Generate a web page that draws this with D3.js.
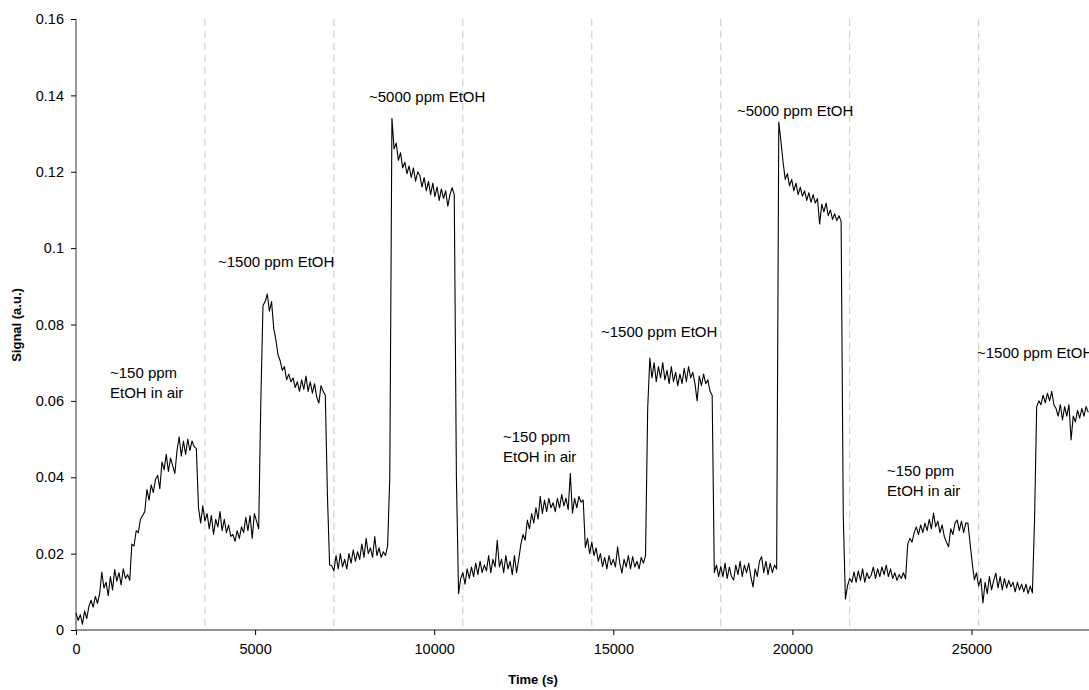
<!DOCTYPE html>
<html>
<head>
<meta charset="utf-8">
<script src="https://cdn.jsdelivr.net/npm/d3@7"></script>
<style>
  body { margin: 0; background: #fff; }
  svg { display: block; }
  text { font-family: "Liberation Sans", Arial, sans-serif; }
</style>
</head>
<body>
<svg id="chart" width="1089" height="690"></svg>
<script>
// ---------------- data ----------------
const sampleIntervalSeconds = 60;   // one reading per minute, starting at t = 0 s
const signal = [
  0.0045, 0.0025, 0.0040, 0.0015, 0.0050, 0.0030, 0.0062, 0.0078, 0.0060, 0.0088,
  0.0070, 0.0095, 0.0152, 0.0110, 0.0125, 0.0090, 0.0140, 0.0105, 0.0158, 0.0128,
  0.0150, 0.0118, 0.0160, 0.0135, 0.0145, 0.0130, 0.0225, 0.0220, 0.0260, 0.0255,
  0.0290, 0.0300, 0.0310, 0.0368, 0.0340, 0.0380, 0.0360, 0.0395, 0.0405, 0.0370,
  0.0440, 0.0420, 0.0460, 0.0415, 0.0450, 0.0430, 0.0410, 0.0470, 0.0506, 0.0455,
  0.0495, 0.0460, 0.0500, 0.0470, 0.0495, 0.0480, 0.0475, 0.0320, 0.0280, 0.0325,
  0.0285, 0.0305, 0.0265, 0.0300, 0.0250, 0.0290, 0.0270, 0.0310, 0.0260, 0.0290,
  0.0255, 0.0275, 0.0245, 0.0250, 0.0232, 0.0260, 0.0240, 0.0270, 0.0255, 0.0295,
  0.0260, 0.0300, 0.0240, 0.0305, 0.0285, 0.0265, 0.0600, 0.0850, 0.0860, 0.0880,
  0.0835, 0.0860, 0.0790, 0.0760, 0.0720, 0.0705, 0.0680, 0.0690, 0.0655, 0.0670,
  0.0650, 0.0660, 0.0635, 0.0650, 0.0625, 0.0655, 0.0630, 0.0665, 0.0625, 0.0650,
  0.0620, 0.0645, 0.0610, 0.0594, 0.0640, 0.0625, 0.0615, 0.0350, 0.0170, 0.0168,
  0.0155, 0.0195, 0.0160, 0.0200, 0.0165, 0.0185, 0.0160, 0.0200, 0.0175, 0.0210,
  0.0180, 0.0205, 0.0185, 0.0225, 0.0190, 0.0240, 0.0200, 0.0215, 0.0190, 0.0245,
  0.0195, 0.0215, 0.0190, 0.0205, 0.0195, 0.0220, 0.0400, 0.1340, 0.1260, 0.1275,
  0.1230, 0.1250, 0.1210, 0.1225, 0.1195, 0.1215, 0.1185, 0.1210, 0.1175, 0.1200,
  0.1190, 0.1160, 0.1185, 0.1150, 0.1175, 0.1140, 0.1170, 0.1135, 0.1160, 0.1125,
  0.1155, 0.1130, 0.1150, 0.1110, 0.1140, 0.1158, 0.1140, 0.0400, 0.0095, 0.0135,
  0.0150, 0.0120, 0.0160, 0.0135, 0.0165, 0.0140, 0.0175, 0.0145, 0.0180, 0.0150,
  0.0170, 0.0155, 0.0195, 0.0150, 0.0185, 0.0165, 0.0235, 0.0165, 0.0185, 0.0150,
  0.0195, 0.0160, 0.0180, 0.0145, 0.0195, 0.0150, 0.0185, 0.0225, 0.0250, 0.0235,
  0.0288, 0.0265, 0.0305, 0.0280, 0.0320, 0.0290, 0.0350, 0.0305, 0.0340, 0.0310,
  0.0345, 0.0320, 0.0333, 0.0310, 0.0345, 0.0320, 0.0355, 0.0325, 0.0345, 0.0315,
  0.0410, 0.0306, 0.0345, 0.0320, 0.0350, 0.0335, 0.0340, 0.0216, 0.0240, 0.0200,
  0.0230, 0.0195, 0.0215, 0.0180, 0.0200, 0.0166, 0.0190, 0.0160, 0.0195, 0.0170,
  0.0185, 0.0165, 0.0218, 0.0175, 0.0149, 0.0185, 0.0165, 0.0195, 0.0160, 0.0192,
  0.0165, 0.0180, 0.0160, 0.0190, 0.0175, 0.0195, 0.0580, 0.0712, 0.0660, 0.0700,
  0.0650, 0.0690, 0.0660, 0.0700, 0.0655, 0.0680, 0.0645, 0.0690, 0.0650, 0.0675,
  0.0640, 0.0670, 0.0645, 0.0685, 0.0650, 0.0690, 0.0660, 0.0675, 0.0645, 0.0600,
  0.0665, 0.0640, 0.0670, 0.0645, 0.0655, 0.0625, 0.0615, 0.0150, 0.0170, 0.0140,
  0.0166, 0.0140, 0.0175, 0.0135, 0.0165, 0.0140, 0.0131, 0.0170, 0.0145, 0.0180,
  0.0140, 0.0170, 0.0150, 0.0175, 0.0140, 0.0113, 0.0160, 0.0140, 0.0180, 0.0192,
  0.0150, 0.0180, 0.0145, 0.0175, 0.0150, 0.0170, 0.0160, 0.1330, 0.1280, 0.1225,
  0.1180, 0.1195, 0.1163, 0.1180, 0.1150, 0.1170, 0.1140, 0.1160, 0.1136, 0.1150,
  0.1125, 0.1145, 0.1120, 0.1140, 0.1118, 0.1130, 0.1063, 0.1115, 0.1095, 0.1118,
  0.1085, 0.1100, 0.1075, 0.1090, 0.1072, 0.1085, 0.1070, 0.0300, 0.0081, 0.0116,
  0.0135, 0.0125, 0.0152, 0.0125, 0.0155, 0.0130, 0.0160, 0.0125, 0.0150, 0.0135,
  0.0144, 0.0165, 0.0135, 0.0160, 0.0140, 0.0165, 0.0145, 0.0170, 0.0140, 0.0160,
  0.0135, 0.0150, 0.0130, 0.0145, 0.0135, 0.0150, 0.0134, 0.0225, 0.0240, 0.0230,
  0.0255, 0.0270, 0.0250, 0.0275, 0.0255, 0.0280, 0.0260, 0.0290, 0.0265, 0.0306,
  0.0270, 0.0285, 0.0255, 0.0275, 0.0245, 0.0230, 0.0218, 0.0265, 0.0250, 0.0280,
  0.0288, 0.0260, 0.0285, 0.0255, 0.0280, 0.0280, 0.0228, 0.0175, 0.0131, 0.0150,
  0.0115, 0.0135, 0.0071, 0.0125, 0.0095, 0.0140, 0.0105, 0.0130, 0.0149, 0.0110,
  0.0140, 0.0105, 0.0135, 0.0110, 0.0130, 0.0113, 0.0125, 0.0100, 0.0125, 0.0105,
  0.0120, 0.0100, 0.0120, 0.0095, 0.0115, 0.0097, 0.0288, 0.0585, 0.0600, 0.0590,
  0.0615, 0.0595, 0.0620, 0.0600, 0.0625, 0.0590, 0.0580, 0.0560, 0.0590, 0.0550,
  0.0585, 0.0560, 0.0590, 0.0498, 0.0560, 0.0545, 0.0575, 0.0555, 0.0580, 0.0560,
  0.0585, 0.0570
];
const gasSwitchTimes = [3600, 7200, 10800, 14400, 18000, 21600, 25200];
const xTickValues = [0, 5000, 10000, 15000, 20000, 25000];
const xTickLabels = ["0", "5000", "10000", "15000", "20000", "25000"];
const yTickValues = [0, 0.02, 0.04, 0.06, 0.08, 0.1, 0.12, 0.14, 0.16];
const yTickLabels = ["0", "0.02", "0.04", "0.06", "0.08", "0.1", "0.12", "0.14", "0.16"];
const labelTexts = [
  ["~150 ppm", "EtOH in air"],
  ["~1500 ppm EtOH"],
  ["~5000 ppm EtOH"],
  ["~150 ppm", "EtOH in air"],
  ["~1500 ppm EtOH"],
  ["~5000 ppm EtOH"],
  ["~150 ppm", "EtOH in air"],
  ["~1500 ppm EtOH"]
];
// label anchor (time, signal) of first text baseline
const labelTimes   = [949, 3964, 8180, 11921, 14657, 18453, 22641, 25153];
const labelSignals = [0.0661, 0.0951, 0.1383, 0.0491, 0.0767, 0.1347, 0.0403, 0.0711];

(function () {
  const svg = d3.select("#chart");
  const plotLeft = 76, plotTop = 19, plotBottom = 630;
  const x = d3.scaleLinear().domain([0, 30000]).range([plotLeft, plotLeft + 30000 * 0.035820]);
  const y = d3.scaleLinear().domain([0, 0.16]).range([plotBottom, plotTop]);

  // dashed switch lines
  svg.append("g").selectAll("line").data(gasSwitchTimes).join("line")
    .attr("x1", d => x(d)).attr("x2", d => x(d))
    .attr("y1", y(0.16)).attr("y2", y(0) - 4)
    .attr("stroke", "#c8c8c8").attr("stroke-width", 1)
    .attr("stroke-dasharray", "7,5");

  // axes
  const yAxis = d3.axisLeft(y).tickValues(yTickValues)
    .tickFormat((d, i) => yTickLabels[i]).tickSize(5).tickPadding(7);
  const gy = svg.append("g").attr("transform", `translate(${plotLeft},0)`).call(yAxis);

  const xAxis = d3.axisBottom(x).tickValues(xTickValues)
    .tickFormat((d, i) => xTickLabels[i]).tickSize(5).tickPadding(9);
  const gx = svg.append("g").attr("transform", `translate(0,${plotBottom})`).call(xAxis);

  [gx, gy].forEach(g => {
    g.select(".domain").attr("stroke", "#6e6e6e").attr("stroke-width", 1.4);
    g.selectAll(".tick line").attr("stroke", "#000");
    g.selectAll(".tick text").attr("fill", "#000")
      .style("font-family", '"Liberation Sans", Arial, sans-serif').style("font-size", "14.5px");
  });
  gy.select(".domain").attr("d", `M0,${plotTop}V${plotBottom}`);
  gx.select(".domain").attr("d", `M${plotLeft},0H1089`);

  // signal line
  const line = d3.line()
    .x((d, i) => x(i * sampleIntervalSeconds))
    .y(d => y(d));
  svg.append("path").datum(signal)
    .attr("d", line)
    .attr("fill", "none")
    .attr("stroke", "#000")
    .attr("stroke-width", 1.1)
    .attr("stroke-linejoin", "round");

  // annotations
  const ann = svg.append("g").attr("font-size", "15px").attr("fill", "#000");
  labelTexts.forEach((lines, k) => {
    const t = ann.append("text")
      .attr("x", x(labelTimes[k])).attr("y", y(labelSignals[k]));
    lines.forEach((s, j) => {
      t.append("tspan").attr("x", x(labelTimes[k])).attr("dy", j === 0 ? 0 : 20).text(s);
    });
  });

  // axis titles
  svg.append("text")
    .attr("x", 533).attr("y", 684)
    .attr("text-anchor", "middle")
    .attr("font-weight", "bold").attr("font-size", "13px")
    .text("Time (s)");
  svg.append("text")
    .attr("transform", "translate(21,325) rotate(-90)")
    .attr("text-anchor", "middle")
    .attr("font-weight", "bold").attr("font-size", "13px")
    .text("Signal (a.u.)");
})();
</script>
</body>
</html>
